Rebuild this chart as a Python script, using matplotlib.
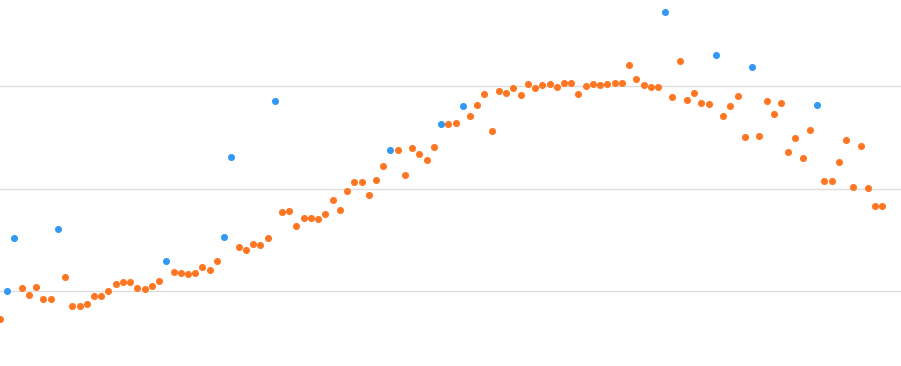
import matplotlib.pyplot as plt

# orange series: (index, value)
orange_x = [0, 3, 4, 5, 6, 7, 9, 10, 11, 12, 13, 14, 15, 16, 17, 18, 19, 20, 21, 22,
            24, 25, 26, 27, 28, 29, 30, 33, 34, 35, 36, 37, 39, 40, 41, 42, 43, 44, 45,
            46, 47, 48, 49, 50, 51, 52, 53, 55, 56, 57, 58, 59, 60, 62, 63, 65, 66, 67,
            68, 69, 70, 71, 72, 73, 74, 75, 76, 77, 78, 79, 80, 81, 82, 83, 84, 85, 86,
            87, 88, 89, 90, 91, 93, 94, 95, 96, 97, 98, 100, 101, 102, 103, 105, 106,
            107, 108, 109, 110, 111, 112, 114, 115, 116, 117, 118, 119, 120, 121, 122]
orange_y = [14.6, 20.6, 19.3, 20.8, 18.5, 18.5, 22.8, 17.1, 17.1, 17.5, 19.1, 19.1, 20.1,
            21.4, 21.8, 21.8, 20.6, 20.4, 21.0, 22.0,
            23.8, 23.6, 23.4, 23.6, 24.7, 24.2, 25.9, 28.6, 28.1, 29.2, 29.0, 30.4, 35.5,
            35.7, 32.7, 34.3, 34.3, 34.1, 35.1,
            37.8, 35.9, 39.6, 41.3, 41.3, 38.8, 41.7, 44.4, 47.6, 42.7, 48.0, 46.8, 45.6,
            48.2, 52.6, 52.8, 54.2, 56.4, 58.5,
            51.3, 59.1, 58.7, 59.7, 58.3, 60.4, 59.7, 60.3, 60.4, 59.9, 60.6, 60.6, 58.5,
            60.1, 60.4, 60.3, 60.4, 60.6, 60.6,
            64.2, 61.4, 60.3, 59.9, 59.9, 57.9, 64.9, 57.3, 58.7, 56.7, 56.5, 54.2, 56.2,
            58.1, 50.1, 50.3, 57.1,
            54.6, 56.7, 47.2, 49.9, 46.0, 51.5, 41.5, 41.5, 45.2, 49.5, 40.4, 48.4, 40.2,
            36.6, 36.6]

# blue series
blue_x = [1, 2, 8, 23, 31, 32, 38, 54, 61, 64, 92, 99, 104, 113]
blue_y = [20.1, 30.4, 32.2, 25.9, 30.6, 46.2, 57.1, 47.6, 52.6, 56.2, 74.5, 66.1, 63.8, 56.4]

fig = plt.figure(figsize=(9.01, 3.66), dpi=100)
ax = fig.add_axes([0, 0, 1, 1])

ax.scatter(blue_x, blue_y, s=26, color='#3399f5', linewidths=0, zorder=3)
ax.scatter(orange_x, orange_y, s=26, color='#ff7722', linewidths=0, zorder=3)

ax.set_xlim(0, 124.6)
ax.set_ylim(5.42, 76.84)
ax.set_yticks([20, 40, 60])
ax.grid(axis='y', color='#dddddd', linewidth=1)
ax.set_axisbelow(True)
ax.tick_params(left=False, bottom=False, labelleft=False, labelbottom=False)
for s in ax.spines.values():
    s.set_visible(False)

fig.savefig('out.png', dpi=100)
